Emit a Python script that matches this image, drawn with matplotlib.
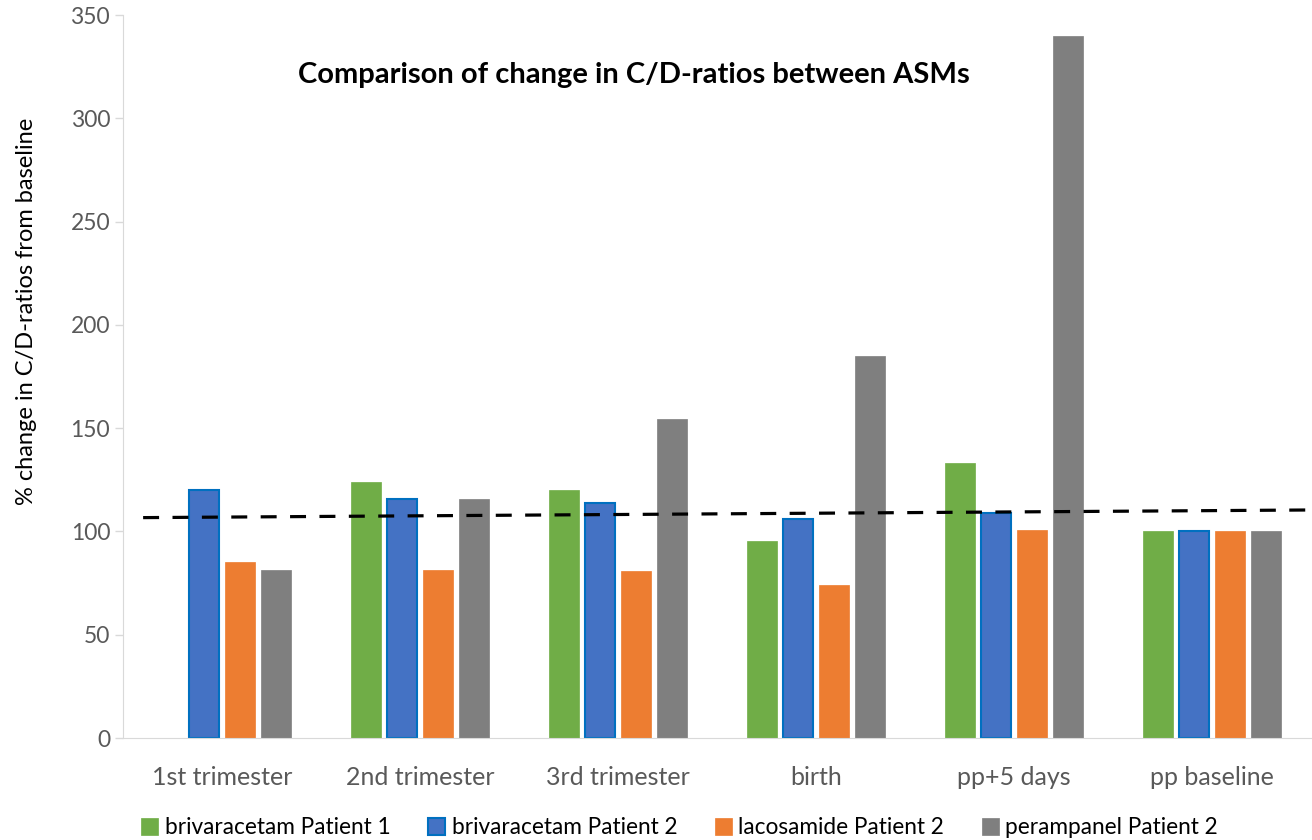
import matplotlib.pyplot as plt
import numpy as np

categories = ['1st trimester', '2nd trimester', '3rd trimester', 'birth', 'pp+5 days', 'pp baseline']
briv_p1 = [0, 124, 120, 95.4, 133, 100]
briv_p2 = [120, 115.7, 114, 106, 109, 100]
laco_p2 = [85, 81.3, 81, 74, 100.5, 100]
peram_p2 = [81.5, 115.7, 154.4, 185, 339.8, 100]
series_names = ['brivaracetam Patient 1', 'brivaracetam Patient 2', 'lacosamide Patient 2', 'perampanel Patient 2']

# trendline end points (category position, value)
trend_x = [0.6, 6.5]
trend_y = [106.7, 110.4]

colors = ['#70AD47', '#4472C4', '#ED7D31', '#7F7F7F']
edges = ['#70AD47', '#0070C0', '#ED7D31', '#7F7F7F']

plt.rcParams['font.family'] = ['Lato', 'DejaVu Sans']

fig = plt.figure(figsize=(13.12, 8.4), dpi=100)
ax = fig.add_axes([0.094, 0.1214, 0.905, 0.8607])

x = np.arange(1, len(categories) + 1)
width = 0.152
step = 0.182
data = [briv_p1, briv_p2, laco_p2, peram_p2]
for i, vals in enumerate(data):
    ax.bar(x + (i - 1.5) * step, vals, width, color=colors[i], edgecolor=edges[i],
           linewidth=1.5 if i == 1 else 0.5, label=series_names[i], zorder=2)

ax.plot(trend_x, trend_y, color='black', linewidth=2.3, linestyle=(0, (5, 4.2)), zorder=3)

ax.set_xlim(0.5, 6.5)
ax.set_ylim(0, 350)
ax.set_yticks(np.arange(0, 351, 50))
ax.set_xticks(x)
ax.set_xticklabels(categories, fontsize=18, color='#595959')
ax.tick_params(axis='y', labelsize=16.5, labelcolor='#595959', color='#D9D9D9', length=6, width=1)
ax.tick_params(axis='x', length=0, pad=20)
for s in ['top', 'right']:
    ax.spines[s].set_visible(False)
ax.spines['left'].set_color('#D9D9D9')
ax.spines['bottom'].set_color('#D9D9D9')
ax.set_ylabel('% change in C/D-ratios from baseline', fontsize=17)
ax.yaxis.set_label_coords(-0.073, 0.59)

ax.text(0.43, 0.917, 'Comparison of change in C/D-ratios between ASMs', transform=ax.transAxes,
        ha='center', va='center', fontsize=21, fontweight='bold')

fig.legend(loc='lower center', ncol=4, frameon=False, fontsize=16.3, bbox_to_anchor=(0.518, -0.022),
           handlelength=0.75, handleheight=0.75, handletextpad=0.3, columnspacing=1.65)

fig.savefig('out.png', dpi=100)
